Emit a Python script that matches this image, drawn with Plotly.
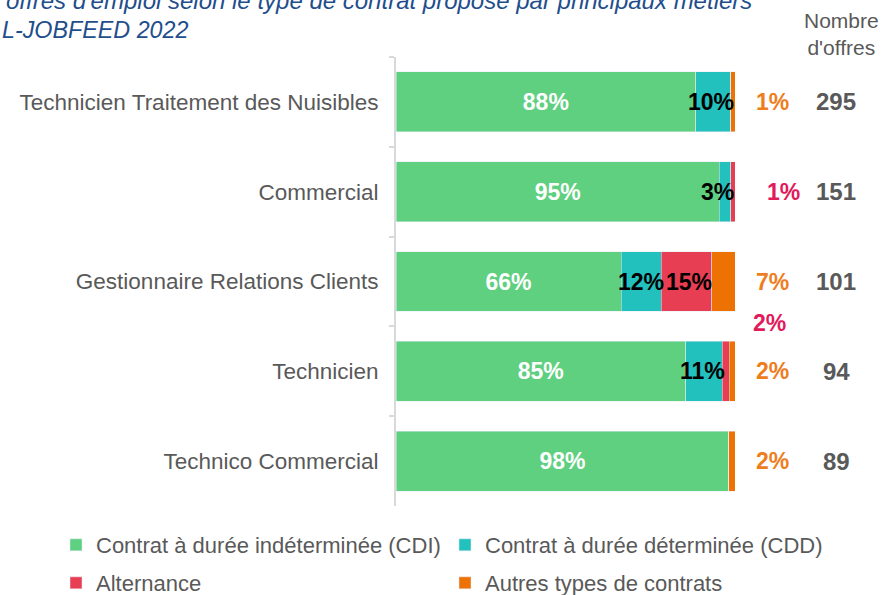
import plotly.graph_objects as go

# ---- data ----
categories = ["Technicien Traitement des Nuisibles", "Commercial",
              "Gestionnaire Relations Clients", "Technicien", "Technico Commercial"]
cdi = [88.4, 95.4, 66.4, 85.4, 98.2]
cdd = [10.3, 3.4, 11.8, 10.8, 0.0]
alternance = [0.0, 1.2, 15.0, 2.1, 0.0]
autres = [1.3, 0.0, 6.8, 1.7, 1.8]
nb_offres = [295, 151, 101, 94, 89]
series_names = ["Contrat à durée indéterminée (CDI)", "Contrat à durée déterminée (CDD)",
                "Alternance", "Autres types de contrats"]

# ---- style ----
FONT = "Liberation Sans"
GREY = "#595959"
C_CDI, C_CDD, C_ALT, C_AUT = "#5FCF80", "#22C1BE", "#E83E53", "#EE7203"
W, H = 885, 595

def pct(v):
    return f"{round(v)}%"

fig = go.Figure()
fig.add_trace(go.Bar(
    y=categories, x=cdi, orientation="h", name=series_names[0], marker_color=C_CDI,
    text=[pct(v) for v in cdi], textposition="inside", insidetextanchor="middle",
    constraintext="none", textfont=dict(family=FONT, size=23, color="white", weight="bold"),
    legend="legend", hoverinfo="skip"))
fig.add_trace(go.Bar(
    y=categories, x=cdd, orientation="h", name=series_names[1], marker_color=C_CDD,
    legend="legend", hoverinfo="skip"))
fig.add_trace(go.Bar(
    y=categories, x=alternance, orientation="h", name=series_names[2], marker_color=C_ALT,
    legend="legend2", hoverinfo="skip"))
fig.add_trace(go.Bar(
    y=categories, x=autres, orientation="h", name=series_names[3], marker_color=C_AUT,
    legend="legend2", hoverinfo="skip"))

ann = []
bold = lambda c, s=23: dict(family=FONT, size=s, color=c, weight="bold")
for i, cat in enumerate(categories):
    end_cdd = cdi[i] + cdd[i]
    end_alt = end_cdd + alternance[i]
    if cdd[i] > 0:
        ann.append(dict(x=end_cdd, y=cat, xref="x", yref="y", text=pct(cdd[i]),
                        xanchor="right", xshift=5, showarrow=False, font=bold("black")))
    if alternance[i] >= 5:
        ann.append(dict(x=end_alt, y=cat, xref="x", yref="y", text=pct(alternance[i]),
                        xanchor="right", xshift=2, showarrow=False, font=bold("black")))
    elif alternance[i] > 0:
        if autres[i] > 0:
            ann.append(dict(x=100, y=cat, xref="x", yref="y", text=pct(alternance[i]),
                            xanchor="center", xshift=34, yshift=48, showarrow=False,
                            font=bold("#E2195B")))
        else:
            ann.append(dict(x=100, y=cat, xref="x", yref="y", text=pct(alternance[i]),
                            xanchor="center", xshift=48, showarrow=False,
                            font=bold("#E2195B")))
    if autres[i] > 0:
        ann.append(dict(x=100, y=cat, xref="x", yref="y", text=pct(autres[i]),
                        xanchor="center", xshift=37, showarrow=False, font=bold("#EE7D1E")))
    ann.append(dict(x=836 / W, y=cat, xref="paper", yref="y", text=str(nb_offres[i]),
                    xanchor="center", showarrow=False, font=bold(GREY, 24)))

ann.append(dict(x=841 / W, y=1 - 34 / H, xref="paper", yref="paper",
                text="Nombre<br>d'offres", xanchor="center", yanchor="middle",
                showarrow=False, font=dict(family=FONT, size=21, color=GREY)))
ann.append(dict(x=4 / W, y=1 - 0 / H, xref="paper", yref="paper",
                text="<i>offres d'emploi selon le type de contrat proposé par principaux métiers</i>",
                xanchor="left", yanchor="middle", showarrow=False,
                font=dict(family=FONT, size=24, color="#1F4E8C")))
ann.append(dict(x=0, y=1 - 30 / H, xref="paper", yref="paper",
                text="<i>L-JOBFEED 2022</i>",
                xanchor="left", yanchor="middle", showarrow=False,
                font=dict(family=FONT, size=23.3, color="#1F4E8C")))

fig.update_layout(
    width=W, height=H, margin=dict(l=0, r=0, t=0, b=0, pad=0, autoexpand=False),
    paper_bgcolor="white", plot_bgcolor="white",
    barmode="stack", bargap=0.333,
    font=dict(family=FONT, size=22, color=GREY),
    annotations=ann,
    xaxis=dict(domain=[396 / W, 735 / W], range=[0, 100], visible=False, fixedrange=True),
    yaxis=dict(domain=[1 - 506 / H, 1 - 57 / H], type="category", autorange="reversed",
               showline=True, linecolor="#D9D9D9", linewidth=2, fixedrange=True,
               ticks="outside", tickson="boundaries", ticklen=5, tickcolor="#D9D9D9",
               tickwidth=2, ticklabelstandoff=11, showgrid=False,
               tickfont=dict(family=FONT, size=22.5, color=GREY)),
    legend=dict(orientation="h", x=56 / W, y=1 - 545 / H, xanchor="left", yanchor="middle",
                traceorder="normal",
                font=dict(family=FONT, size=22, color=GREY), entrywidth=344,
                entrywidthmode="pixels", bgcolor="rgba(0,0,0,0)"),
    legend2=dict(orientation="h", x=56 / W, y=1 - 583 / H, xanchor="left", yanchor="middle",
                 traceorder="normal",
                 font=dict(family=FONT, size=22, color=GREY), entrywidth=344,
                 entrywidthmode="pixels", bgcolor="rgba(0,0,0,0)"),
)

fig.write_html("out.html", config={"displayModeBar": False},
               post_script="document.body.style.margin='0px';")
